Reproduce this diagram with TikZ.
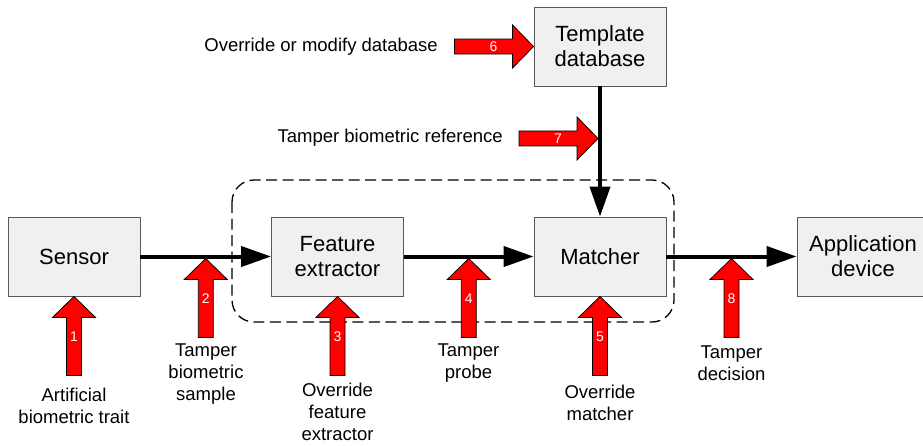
\documentclass[tikz,border=0pt]{standalone}
\usepackage{fontspec}
\setmainfont{Liberation Sans}
\usetikzlibrary{arrows.meta,calc}

\tikzset{
  block/.style={draw=black!65, fill=black!6, line width=0.9pt, minimum width=132pt,
    minimum height=79pt, inner sep=0pt, align=center, font=\fontsize{22}{25}\selectfont},
  lbl/.style={align=center, inner sep=0pt, font=\fontsize{18.5}{22}\selectfont},
  flow/.style={line width=4pt, -{Triangle[length=30pt,width=20pt]}},
  attack/.style={draw=black, fill=red, line width=0.8pt, line join=miter},
  num/.style={text=white, inner sep=0pt, font=\fontsize{14}{14}\selectfont}
}

\begin{document}
\begin{tikzpicture}[x=1pt,y=-1pt]
  \useasboundingbox (0,0) rectangle (923,445);
  % system blocks
  \node[block] (sensor) at (74,256.5) {Sensor};
  \node[block] (fe) at (337.5,256.5) {Feature\\extractor};
  \node[block] (match) at (600,256.5) {Matcher};
  \node[block] (app) at (863,256.5) {Application\\device};
  \node[block] (db) at (600,46.5) {Template\\database};
  % dashed frame
  \draw[dash pattern=on 11pt off 5.5pt, line width=1.3pt, rounded corners=22pt]
    (232,180) rectangle (674,322);
  % data flow
  \draw[flow] (sensor) -- (fe);
  \draw[flow] (fe) -- (match);
  \draw[flow] (match) -- (app);
  \draw[flow] (db) -- (match);
  % attack points
  \coordinate (t2) at ($(sensor.east)!.5!(fe.west)+(0,2)$);
  \coordinate (t4) at ($(fe.east)!.5!(match.west)+(0,2)$);
  \coordinate (t8) at ($(match.east)!.5!(app.west)+(0,2)$);
  \coordinate (t7) at ($(db.south)+(-2,52)$);
  \foreach \n/\t/\r in {1/sensor.south/0, 2/t2/0, 3/fe.south/0, 4/t4/0, 5/match.south/0,
                        8/t8/0, 6/db.west/-90, 7/t7/-90}{
    \begin{scope}[shift={(\t)}, rotate=\r]
      \draw[attack] (0,0) -- (21.5,21) -- (7.5,21) -- (7.5,79) -- (-7.5,79)
        -- (-7.5,21) -- (-21.5,21) -- cycle;
      \node[num] (n\n) at (0,40) {\n};
    \end{scope}}
  % labels
  \node[lbl] (l1) at (74,406) {Artificial\\biometric trait};
  \node[lbl] (l2) at (206,374) {Tamper\\biometric\\sample};
  \node[lbl] (l3) at (337.5,412) {Override\\feature\\extractor};
  \node[lbl] (l4) at (468.5,363) {Tamper\\probe};
  \node[lbl] (l5) at (600,402.5) {Override\\matcher};
  \node[lbl] (l8) at (731.5,363) {Tamper\\decision};
  \node[lbl, anchor=east] (l6) at (438,46.5) {Override or modify database};
  \node[lbl, anchor=east] (l7) at (503,138) {Tamper biometric reference};
\end{tikzpicture}
\end{document}
